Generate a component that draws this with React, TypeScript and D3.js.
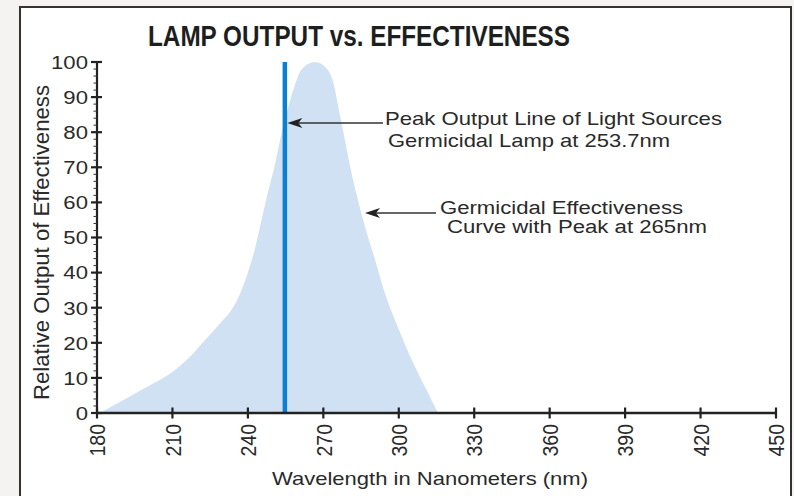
import React from 'react';
import * as d3 from 'd3';

const wavelengths = [181, 190, 200, 210, 217, 222, 229, 234, 237.5, 240, 242.5, 244.5, 247, 250.5, 253.5, 256, 258.5, 261.5, 266.7, 271.5, 274, 276, 278.5, 281, 284, 287, 290, 295, 299, 304.5, 311, 315.6];
const effectiveness = [0, 3.5, 7.5, 11.7, 16, 20, 25.6, 30, 35, 40, 46, 52, 60, 70, 80, 87, 93, 98, 100, 98, 94, 87, 78, 69, 60, 52, 45, 33, 25.6, 16.2, 6.6, 0];
const xTicks = [180, 210, 240, 270, 300, 330, 360, 390, 420, 450];
const yTicks = [0, 10, 20, 30, 40, 50, 60, 70, 80, 90, 100];
const yMinorTicks = d3.range(0, 101, 2);
const lampWavelength = 254.7;
const lampPeak = 100;
const titleText = 'LAMP OUTPUT vs. EFFECTIVENESS';
const xTitle = 'Wavelength in Nanometers (nm)';
const yTitle = 'Relative Output of Effectiveness';
const lampNote = ['Peak Output Line of Light Sources', 'Germicidal Lamp at 253.7nm'];
const curveNote = ['Germicidal Effectiveness', 'Curve with Peak at 265nm'];

const FONT = '"Liberation Sans", Arial, Helvetica, sans-serif';
const SX = 1.166;
const INK = '#2a2a2a';

function arrowHead(tx: number, ty: number) {
  return `M${tx},${ty} L${tx + 15},${ty - 5} L${tx + 11},${ty} L${tx + 15},${ty + 5} Z`;
}

export default function App() {
  const x = d3.scaleLinear().domain([180, 450]).range([97, 776]);
  const y = d3.scaleLinear().domain([0, 100]).range([413, 62]);

  const pts = wavelengths.map((w, i) => [w, effectiveness[i]] as [number, number]);
  const area = d3
    .area<[number, number]>()
    .x((d) => x(d[0]))
    .y0(y(0))
    .y1((d) => y(d[1]))
    .curve(d3.curveMonotoneX);

  const lampX = x(lampWavelength);
  const a1y = 123;
  const a1tip = lampX + 2.5;
  const a2y = 213;
  const a2tip = 365;

  return (
    <svg width={794} height={496} style={{ position: 'absolute', left: 0, top: 0 }}>
      <rect x={0} y={0} width={794} height={496} fill="#f4f3f1" />
      <rect x={20} y={7} width={771} height={500} fill="#ffffff" stroke="#333" strokeWidth={2} />

      <text
        x={148}
        y={46}
        fontFamily={'"Liberation Sans", Arial, sans-serif'}
        fontWeight="bold"
        fontSize={30}
        fill="#1e1e1e"
        textLength={422}
        lengthAdjust="spacingAndGlyphs"
      >
        {titleText}
      </text>

      <path d={area(pts) || ''} fill="#cfe1f3" />

      <line x1={lampX} x2={lampX} y1={y(0)} y2={y(lampPeak)} stroke="#0b7fd0" strokeWidth={4.5} />

      {/* y axis */}
      <line x1={x(180)} x2={x(180)} y1={y(0)} y2={y(100)} stroke="#222" strokeWidth={2.2} />
      {yMinorTicks.map((t) => (
        <line key={'m' + t} x1={x(180) - 3.5} x2={x(180)} y1={y(t)} y2={y(t)} stroke="#333" strokeWidth={1} />
      ))}
      {yTicks.map((t) => (
        <g key={'y' + t}>
          <line x1={x(180) - 6} x2={x(180) + 5} y1={y(t)} y2={y(t)} stroke="#222" strokeWidth={2.2} />
          <text
            transform={`translate(${x(180) - 9},${y(t)}) scale(${SX},1)`}
            dy="0.36em"
            textAnchor="end"
            fontFamily={FONT}
            fontSize={19}
            fill={INK}
          >
            {t}
          </text>
        </g>
      ))}

      {/* x axis */}
      <line x1={x(180)} x2={x(450)} y1={y(0)} y2={y(0)} stroke="#222" strokeWidth={2.6} />
      {xTicks.map((t) => (
        <g key={'x' + t}>
          <line x1={x(t)} x2={x(t)} y1={y(0) - 5.5} y2={y(0) + 5.5} stroke="#222" strokeWidth={2.2} />
          <text
            transform={`translate(${x(t)},${y(0) + 11}) scale(${SX},1) rotate(-90)`}
            dy="0.36em"
            textAnchor="end"
            fontFamily={FONT}
            fontSize={19.5}
            fill={INK}
          >
            {t}
          </text>
        </g>
      ))}

      <text
        x={430}
        y={485}
        textAnchor="middle"
        fontFamily={FONT}
        fontSize={19}
        fill={INK}
        textLength={316}
        lengthAdjust="spacingAndGlyphs"
      >
        {xTitle}
      </text>

      <text
        transform={`translate(49,242.5) scale(${SX},1) rotate(-90)`}
        textAnchor="middle"
        fontFamily={FONT}
        fontSize={19.5}
        fill={INK}
        textLength={315}
        lengthAdjust="spacingAndGlyphs"
      >
        {yTitle}
      </text>

      {/* annotation 1 */}
      <line x1={a1tip + 10} x2={383} y1={a1y} y2={a1y} stroke="#333" strokeWidth={1.6} />
      <path d={arrowHead(a1tip, a1y)} fill="#222" />
      <text x={385} y={125} fontFamily={FONT} fontSize={19} fill={INK} textLength={337} lengthAdjust="spacingAndGlyphs">
        {lampNote[0]}
      </text>
      <text x={388} y={147} fontFamily={FONT} fontSize={19} fill={INK} textLength={282} lengthAdjust="spacingAndGlyphs">
        {lampNote[1]}
      </text>

      {/* annotation 2 */}
      <line x1={a2tip + 10} x2={436} y1={a2y} y2={a2y} stroke="#333" strokeWidth={1.6} />
      <path d={arrowHead(a2tip, a2y)} fill="#222" />
      <text x={440} y={214} fontFamily={FONT} fontSize={18} fill={INK} textLength={243} lengthAdjust="spacingAndGlyphs">
        {curveNote[0]}
      </text>
      <text x={447} y={233} fontFamily={FONT} fontSize={18} fill={INK} textLength={260} lengthAdjust="spacingAndGlyphs">
        {curveNote[1]}
      </text>
    </svg>
  );
}
